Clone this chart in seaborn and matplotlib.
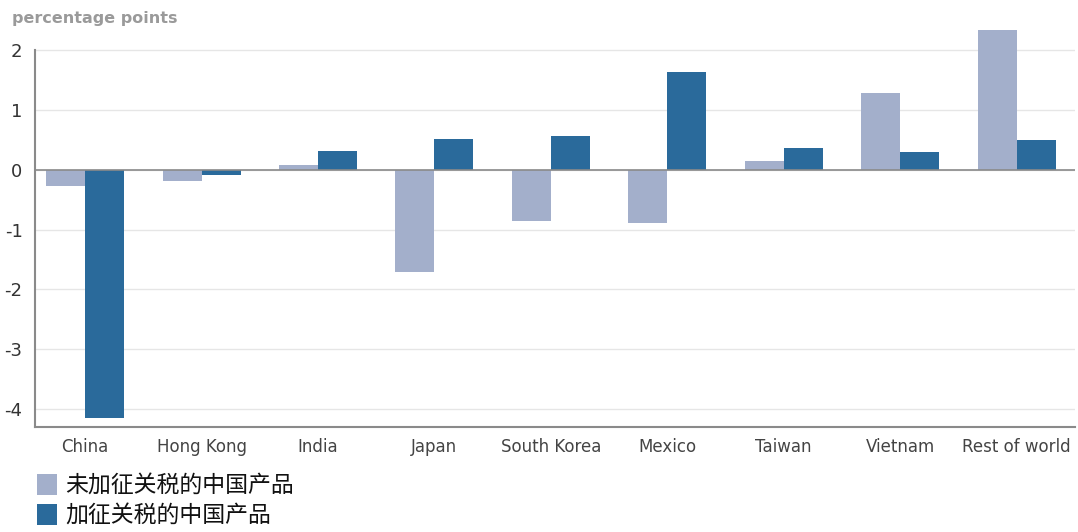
import matplotlib
matplotlib.use("Agg")
import matplotlib.pyplot as plt
import seaborn as sns
import pandas as pd
from matplotlib.patches import Patch

regions = ["China", "Hong Kong", "India", "Japan", "South Korea", "Mexico",
           "Taiwan", "Vietnam", "Rest of world"]
untariffed = [-0.27, -0.19, 0.08, -1.71, -0.86, -0.89, 0.15, 1.29, 2.33]
tariffed = [-4.14, -0.09, 0.32, 0.52, 0.57, 1.63, 0.37, 0.29, 0.49]
series_names = ["未加征关税的中国产品", "加征关税的中国产品"]
yticks = [2, 1, 0, -1, -2, -3, -4]
ytick_labels = ["2", "1", "0", "-1", "-2", "-3", "-4"]

light = "#A3AFCB"
dark = "#2A6A9B"

df = pd.DataFrame({
    "region": regions * 2,
    "value": untariffed + tariffed,
    "series": [series_names[0]] * len(regions) + [series_names[1]] * len(regions),
})

sns.set_theme(style="white")
plt.rcParams['font.family'] = ['DejaVu Sans', 'Noto Sans CJK SC']

fig = plt.figure(figsize=(10.78, 5.32), dpi=100)
ax = fig.add_axes([0.0325, 0.197, 0.9645, 0.754])

sns.barplot(data=df, x="region", y="value", hue="series", order=regions,
            hue_order=series_names, palette=[light, dark], saturation=1,
            width=0.67, gap=0, ax=ax, legend=False, errorbar=None,
            linewidth=0, edgecolor="none")

ax.set_xlim(-0.43, 8.5)
ax.set_ylim(-4.3, 2.4)
ax.set_yticks(yticks)
ax.set_yticklabels(ytick_labels)
ax.set_xlabel("")
ax.set_ylabel("")
ax.yaxis.grid(True, color="#E6E6E6", linewidth=1)
ax.set_axisbelow(True)
ax.axhline(0, color="#8A8A8A", linewidth=1.2, zorder=3)

for s in ["top", "right"]:
    ax.spines[s].set_visible(False)
for s in ["left", "bottom"]:
    ax.spines[s].set_color("#8A8A8A")
    ax.spines[s].set_linewidth(1.5)
ax.spines["left"].set_bounds(-4.3, 2.0)

ax.tick_params(axis="x", labelsize=12, colors="#444444", length=0, pad=8)
ax.tick_params(axis="y", labelsize=13, colors="#333333", length=0, pad=9)

fig.text(0.011, 0.965, "percentage points", fontsize=11.5, color="#9A9A9A",
         fontweight="bold", ha="left", va="center")

handles = [Patch(facecolor=light, edgecolor="none"), Patch(facecolor=dark, edgecolor="none")]
fig.legend(handles, series_names, loc="lower left", bbox_to_anchor=(0.015, -0.03),
           frameon=False, prop={"family": ["Noto Sans CJK SC"], "size": 16.5},
           handlelength=0.9, handleheight=1.05, handletextpad=0.35, labelspacing=0.28,
           labelcolor="#111111")

fig.savefig("out.png", dpi=100)
